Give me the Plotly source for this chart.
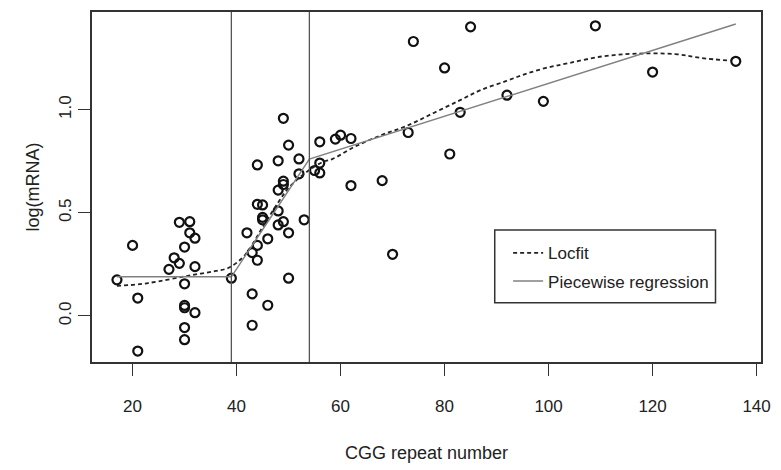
import plotly.graph_objects as go

# observed data: CGG repeat number vs log(mRNA)
cgg = [17, 20, 21, 21, 27, 28, 29, 29, 30, 31, 31, 32, 32, 30, 30, 30, 32, 30, 30,
       39, 42, 43, 44, 44, 43, 43, 46, 46, 44, 45, 45, 45, 48, 48, 49, 50, 50, 53,
       48, 49, 49, 49, 50, 48, 44, 52, 52, 56, 59, 56, 55, 56, 60, 62, 62, 68, 70,
       73, 74, 80, 81, 83, 85, 92, 99, 109, 120, 136]
log_mrna = [0.175, 0.342, 0.087, -0.17, 0.226, 0.282, 0.255, 0.454, 0.334, 0.457, 0.403,
            0.377, 0.239, 0.156, 0.051, 0.04, 0.016, -0.056, -0.115,
            0.183, 0.403, 0.307, 0.342, 0.270, 0.107, -0.045, 0.052, 0.374, 0.541, 0.538,
            0.478, 0.466, 0.509, 0.441, 0.457, 0.403, 0.183, 0.466,
            0.61, 0.637, 0.653, 0.958, 0.828, 0.752, 0.732, 0.761, 0.689, 0.844, 0.857,
            0.741, 0.705, 0.693, 0.876, 0.86, 0.632, 0.656, 0.299,
            0.889, 1.330, 1.202, 0.785, 0.987, 1.401, 1.070, 1.040, 1.406, 1.182, 1.234]

# Locfit curve
locfit_x = [17, 21.4, 25, 29.8, 33, 36, 38.6, 41.7, 45, 48, 50, 53.2, 56.7, 58.4, 62.7,
            67.8, 72.9, 78, 83, 87, 91.9, 95.5, 99.5, 104, 110.4, 116.8, 124.4, 129.4, 135]
locfit_y = [0.146, 0.154, 0.168, 0.191, 0.205, 0.218, 0.235, 0.298, 0.43, 0.55, 0.62,
            0.693, 0.748, 0.76, 0.82, 0.876, 0.923, 0.985, 1.046, 1.095, 1.139, 1.172,
            1.202, 1.226, 1.258, 1.271, 1.269, 1.25, 1.237]

# Piecewise regression (breakpoints at 39 and 54)
piece_x = [17, 39, 54, 136]
piece_y = [0.19, 0.19, 0.76, 1.415]
breakpoints = [39, 54]

x_ticks = [20, 40, 60, 80, 100, 120, 140]
y_ticks = [0.0, 0.5, 1.0]
y_ticklabels = ["0.0", "0.5", "1.0"]

FONT = "Liberation Sans, Arial, sans-serif"
AX = "#333333"

fig = go.Figure()
fig.add_trace(go.Scatter(
    x=cgg, y=log_mrna, mode="markers", showlegend=False,
    marker=dict(symbol="circle-open", size=9, color="#111111", line=dict(width=2.2, color="#111111")),
))
fig.add_trace(go.Scatter(
    x=locfit_x, y=locfit_y, mode="lines", name="Locfit", legendgroup="a",
    line=dict(color="#222222", width=1.8, dash="4px,3px", shape="spline"),
))
fig.add_trace(go.Scatter(
    x=piece_x, y=piece_y, mode="lines", name="Piecewise regression", legendgroup="b",
    line=dict(color="#808080", width=1.4),
))
for bp in breakpoints:
    fig.add_vline(x=bp, line=dict(color="#555555", width=1.3))

# legend frame
fig.add_shape(type="rect", xref="paper", yref="paper", x0=0.602, x1=0.932, y0=0.169, y1=0.377,
              line=dict(color="#333333", width=1.5), fillcolor="rgba(0,0,0,0)", layer="above")

fig.update_layout(
    width=781, height=470,
    margin=dict(l=92, r=15, t=10, b=105),
    paper_bgcolor="white", plot_bgcolor="white",
    font=dict(family=FONT, size=17, color="#222222"),
    xaxis=dict(
        range=[12.2, 140.85], tickvals=x_ticks, showgrid=False, zeroline=False,
        showline=True, mirror=True, linecolor=AX, linewidth=1.5,
        ticks="outside", ticklen=12, tickwidth=1.4, tickcolor=AX,
        ticklabelstandoff=16,
        tickfont=dict(size=17), title=dict(text="CGG repeat number", standoff=31, font=dict(size=18)),
    ),
    yaxis=dict(
        range=[-0.223, 1.473], tickvals=y_ticks, ticktext=y_ticklabels, showgrid=False, zeroline=False,
        showline=True, mirror=True, linecolor=AX, linewidth=1.5,
        ticks="outside", ticklen=12, tickwidth=1.4, tickcolor=AX, tickangle=-90,
        tickfont=dict(size=17), title=dict(text="log(mRNA)", standoff=12, font=dict(size=18)),
    ),
    legend=dict(
        x=0.622, y=0.362, xanchor="left", yanchor="top",
        borderwidth=0, bgcolor="rgba(0,0,0,0)",
        font=dict(size=17), tracegroupgap=3,
    ),
)

fig.write_html("out.html", config={"displayModeBar": False},
               post_script="document.body.style.margin='0';")
